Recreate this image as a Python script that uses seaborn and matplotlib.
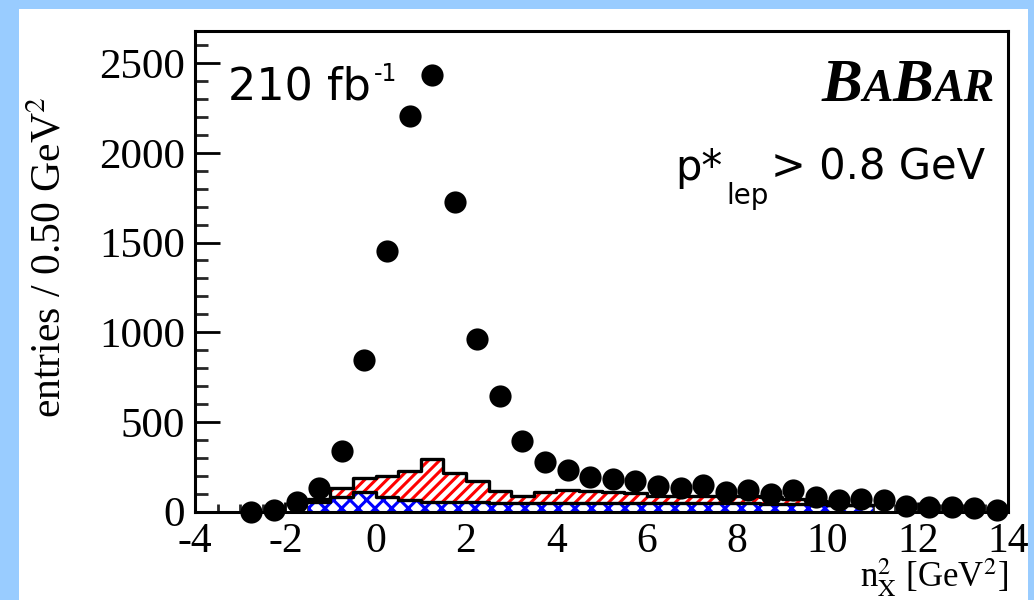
import matplotlib
matplotlib.use("Agg")
import matplotlib.pyplot as plt
from matplotlib.patches import Rectangle
from matplotlib.ticker import MultipleLocator
from matplotlib.offsetbox import TextArea, HPacker, AnnotationBbox
import pandas as pd
import seaborn as sns

# ---------------- data ----------------
data_x = [-2.75, -2.25, -1.75, -1.25, -0.75, -0.25, 0.25, 0.75, 1.25, 1.75,
          2.25, 2.75, 3.25, 3.75, 4.25, 4.75, 5.25, 5.75, 6.25, 6.75,
          7.25, 7.75, 8.25, 8.75, 9.25, 9.75, 10.25, 10.75, 11.25, 11.75,
          12.25, 12.75, 13.25, 13.75]
data_y = [0, 8, 55, 131, 337, 844, 1452, 2204, 2433, 1725,
          960, 644, 395, 276, 231, 194, 181, 172, 140, 133,
          148, 106, 120, 98, 120, 80, 66, 70, 64, 31,
          25, 25, 22, 8]

bin_edges = [-1.5, -1.0, -0.5, 0.0, 0.5, 1.0, 1.5, 2.0, 2.5, 3.0, 3.5, 4.0, 4.5,
             5.0, 5.5, 6.0, 6.5, 7.0, 7.5, 8.0, 8.5, 9.0, 9.5, 10.0, 10.5, 11.0]
bin_centers = [-1.25, -0.75, -0.25, 0.25, 0.75, 1.25, 1.75, 2.25, 2.75, 3.25,
               3.75, 4.25, 4.75, 5.25, 5.75, 6.25, 6.75, 7.25, 7.75, 8.25,
               8.75, 9.25, 9.75, 10.25, 10.75]
blue_bkg = [55, 83, 107, 83, 64, 55, 55, 55, 50, 48, 48, 48, 48, 48, 48, 48,
            47, 46, 45, 45, 44, 42, 40, 38, 35]
red_bkg = [15, 50, 78, 115, 164, 236, 161, 117, 64, 38, 61, 72, 64, 60, 57, 40,
           41, 42, 40, 40, 36, 28, 20, 0, 0]

x_ticks = [-4, -2, 0, 2, 4, 6, 8, 10, 12, 14]
y_ticks = [0, 500, 1000, 1500, 2000, 2500]

# ---------------- style ----------------
sns.set_theme(style="white")
plt.rcParams["font.family"] = ["Liberation Serif", "DejaVu Serif"]
plt.rcParams["mathtext.fontset"] = "stix"
plt.rcParams["hatch.linewidth"] = 2.2
plt.rcParams["text.color"] = "black"
plt.rcParams["axes.labelcolor"] = "black"

W, H = 1034, 600
fig = plt.figure(figsize=(W / 100, H / 100), dpi=100)
fig.patch.set_facecolor("#99CCFF")
fig.add_artist(Rectangle((19 / W, 0), (1028 - 19) / W, 591 / H,
                         transform=fig.transFigure, facecolor="white",
                         edgecolor="none", zorder=-10))

ax = fig.add_axes([195 / W, 1 - 511.5 / H, 813 / W, 480.5 / H])
ax.set_facecolor("white")

total = [b + r for b, r in zip(blue_bkg, red_bkg)]
df = pd.DataFrame({"x": bin_centers, "blue": blue_bkg, "total": total})

# red hatched (stacked total)
n0 = len(ax.patches)
sns.histplot(data=df, x="x", weights="total", bins=bin_edges, element="bars",
             fill=True, color="white", linewidth=0, ax=ax)
for p in ax.patches[n0:]:
    p.set_facecolor("white")
    p.set_edgecolor("red")
    p.set_hatch("///")
    p.set_linewidth(0)
    p.set_zorder(1)

# blue cross hatched
n1 = len(ax.patches)
sns.histplot(data=df, x="x", weights="blue", bins=bin_edges, element="bars",
             fill=True, color="white", linewidth=0, ax=ax)
for p in ax.patches[n1:]:
    p.set_facecolor("white")
    p.set_edgecolor("blue")
    p.set_hatch("xx")
    p.set_linewidth(0)
    p.set_zorder(1.5)

# outlines
nl = len(ax.lines)
sns.histplot(data=df, x="x", weights="total", bins=bin_edges, element="step",
             fill=False, color="black", linewidth=2.4, ax=ax)
sns.histplot(data=df, x="x", weights="blue", bins=bin_edges, element="step",
             fill=False, color="black", linewidth=2.4, ax=ax)
for ln in ax.lines[nl:]:
    ln.set_zorder(2)

# data points
nc = len(ax.collections)
sns.scatterplot(x=data_x, y=data_y, s=255, color="black", linewidth=0,
                ax=ax, legend=False, zorder=5)
for c in ax.collections[nc:]:
    c.set_clip_on(False)

# ---------------- axes ----------------
ax.set_xlim(-4, 14)
ax.set_ylim(0, 2680)
ax.set_xticks(x_ticks)
ax.set_yticks(y_ticks)
ax.set_xticklabels([str(t) for t in x_ticks])
ax.set_yticklabels([str(t) for t in y_ticks])
ax.xaxis.set_minor_locator(MultipleLocator(0.5))
ax.yaxis.set_minor_locator(MultipleLocator(100))
for s in ax.spines.values():
    s.set_visible(True)
    s.set_color("black")
    s.set_linewidth(2.2)
    s.set_zorder(6)

ax.tick_params(axis="y", which="major", direction="in", length=18, width=2,
               left=True, right=False, labelsize=31, pad=7, colors="black")
ax.tick_params(axis="y", which="minor", direction="in", length=9, width=2,
               left=True, right=False)
ax.tick_params(axis="x", which="major", direction="in", length=7, width=2,
               bottom=True, top=False, labelsize=30, pad=8, colors="black")
ax.tick_params(axis="x", which="minor", direction="in", length=6, width=2,
               bottom=True, top=False)
for lab in ax.get_xticklabels() + ax.get_yticklabels():
    lab.set_fontfamily("Liberation Serif")

ax.set_ylabel(r"entries / 0.50 GeV$^{2}$", fontsize=30, color="black")
ax.yaxis.set_label_coords(-0.154, 0.53)
ax.set_xlabel(r"n$^{2}_{\mathrm{X}}$ [GeV$^{2}$]", fontsize=25, color="black",
              ha="right", va="top")
ax.xaxis.set_label_coords(1.0, -0.094)

# ---------------- annotations ----------------
fig.text(228 / W, 1 - 100 / H, "210 fb", family="DejaVu Sans", fontsize=32,
         ha="left", va="baseline", color="black")
fig.text(374 / W, 1 - 81 / H, "-1", family="DejaVu Sans", fontsize=17,
         ha="left", va="baseline", color="black")
fig.text(675 / W, 1 - 180 / H, "p*", family="DejaVu Sans", fontsize=30,
         ha="left", va="baseline", color="black")
fig.text(726 / W, 1 - 204 / H, "lep", family="DejaVu Sans", fontsize=20,
         ha="left", va="baseline", color="black")
fig.text(985 / W, 1 - 180 / H, "> 0.8 GeV", family="DejaVu Sans", fontsize=30,
         ha="right", va="baseline", color="black")

big = dict(fontsize=44, family="Liberation Serif", weight="bold", style="italic", color="black")
small = dict(fontsize=33, family="Liberation Serif", weight="bold", style="italic", color="black")
pack = HPacker(children=[TextArea("B", textprops=big), TextArea("A", textprops=small),
                         TextArea("B", textprops=big), TextArea("AR", textprops=small)],
               align="baseline", pad=0, sep=0)
ab = AnnotationBbox(pack, (995 / W, 1 - 114 / H), xycoords="figure fraction",
                    box_alignment=(1, 0), frameon=False, pad=0)
fig.add_artist(ab)

fig.savefig("out.png", dpi=100, facecolor=fig.get_facecolor())
